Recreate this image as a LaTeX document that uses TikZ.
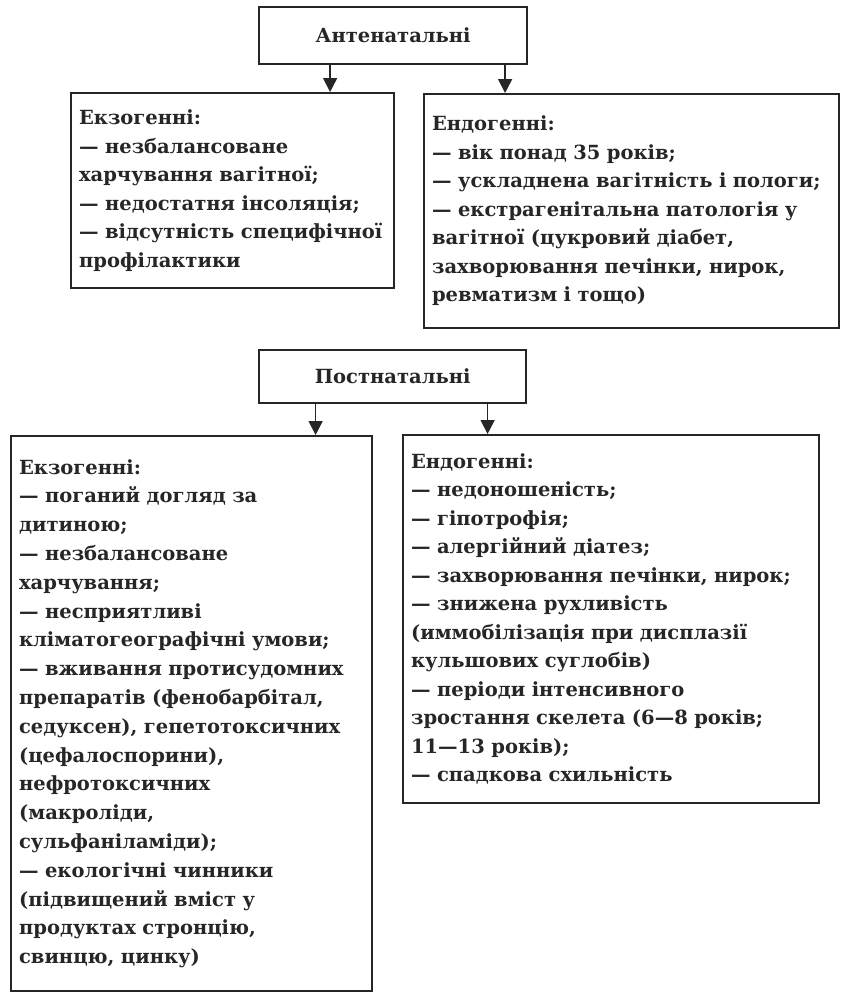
\documentclass[tikz,border=0pt]{standalone}
\usepackage{fontspec}
\setmainfont{DejaVu Serif}
\usetikzlibrary{arrows.meta}
\definecolor{ink}{HTML}{262626}
\begin{document}
\begin{tikzpicture}[x=1pt,y=-1pt,
  box/.style={draw=ink, line width=2.2pt, anchor=north west, align=left,
    inner xsep=8pt, inner ysep=0pt, text=ink,
    font=\bfseries\fontsize{19.5}{28.5}\selectfont},
  headbox/.style={draw=ink, line width=2.2pt, anchor=north west, align=center,
    inner sep=0pt, text=ink, font=\bfseries\fontsize{19.5}{24}\selectfont},
  arr/.style={draw=ink, line width=1.6pt, -{Triangle[width=14pt,length=14pt]}}]
\useasboundingbox (0,0) rectangle (853,994);
\fill[white] (0,0) rectangle (853,994);

% prenatal factors
\node[headbox, minimum width=268pt, minimum height=57pt] (ante) at (258,6) {Антенатальні};
\node[box, text width=307pt, minimum width=323pt, minimum height=195pt] (exo1) at (70,92)
  {Екзогенні:\\
   — незбалансоване\\
   харчування вагітної;\\
   — недостатня інсоляція;\\
   — відсутність специфічної\\
   профілактики};
\node[box, text width=399pt, minimum width=415pt, minimum height=234pt] (endo1) at (423,93)
  {Ендогенні:\\
   — вік понад 35 років;\\
   — ускладнена вагітність і пологи;\\
   — екстрагенітальна патологія у\\
   вагітної (цукровий діабет,\\
   захворювання печінки, нирок,\\
   ревматизм і тощо)};

% postnatal factors
\node[headbox, minimum width=267pt, minimum height=53pt] (post) at (258,349) {Постнатальні};
\node[box, text width=345pt, minimum width=361pt, minimum height=555pt,
      font=\bfseries\fontsize{19.5}{28.8}\selectfont] (exo2) at (10,435)
  {Екзогенні:\\
   — поганий догляд за\\
   дитиною;\\
   — незбалансоване\\
   харчування;\\
   — несприятливі\\
   кліматогеографічні умови;\\
   — вживання протисудомних\\
   препаратів (фенобарбітал,\\
   седуксен), гепетотоксичних\\
   (цефалоспорини),\\
   нефротоксичних\\
   (макроліди,\\
   сульфаніламіди);\\
   — екологічні чинники\\
   (підвищений вміст у\\
   продуктах стронцію,\\
   свинцю, цинку)};
\node[box, text width=400pt, minimum width=416pt, minimum height=368pt] (endo2) at (402,434)
  {Ендогенні:\\
   — недоношеність;\\
   — гіпотрофія;\\
   — алергійний діатез;\\
   — захворювання печінки, нирок;\\
   — знижена рухливість\\
   (иммобілізація при дисплазії\\
   кульшових суглобів)\\
   — періоди інтенсивного\\
   зростання скелета (6—8 років;\\
   11—13 років);\\
   — спадкова схильність};

% connectors
\coordinate (a1) at ([xshift=-63pt]ante.south);
\coordinate (a2) at ([xshift=112pt]ante.south);
\coordinate (p1) at ([xshift=-77pt]post.south);
\coordinate (p2) at ([xshift=95pt]post.south);
\draw[arr] (a1) -- (a1 |- exo1.north);
\draw[arr] (a2) -- (a2 |- endo1.north);
\draw[arr] (p1) -- (p1 |- exo2.north);
\draw[arr] (p2) -- (p2 |- endo2.north);
\end{tikzpicture}
\end{document}
